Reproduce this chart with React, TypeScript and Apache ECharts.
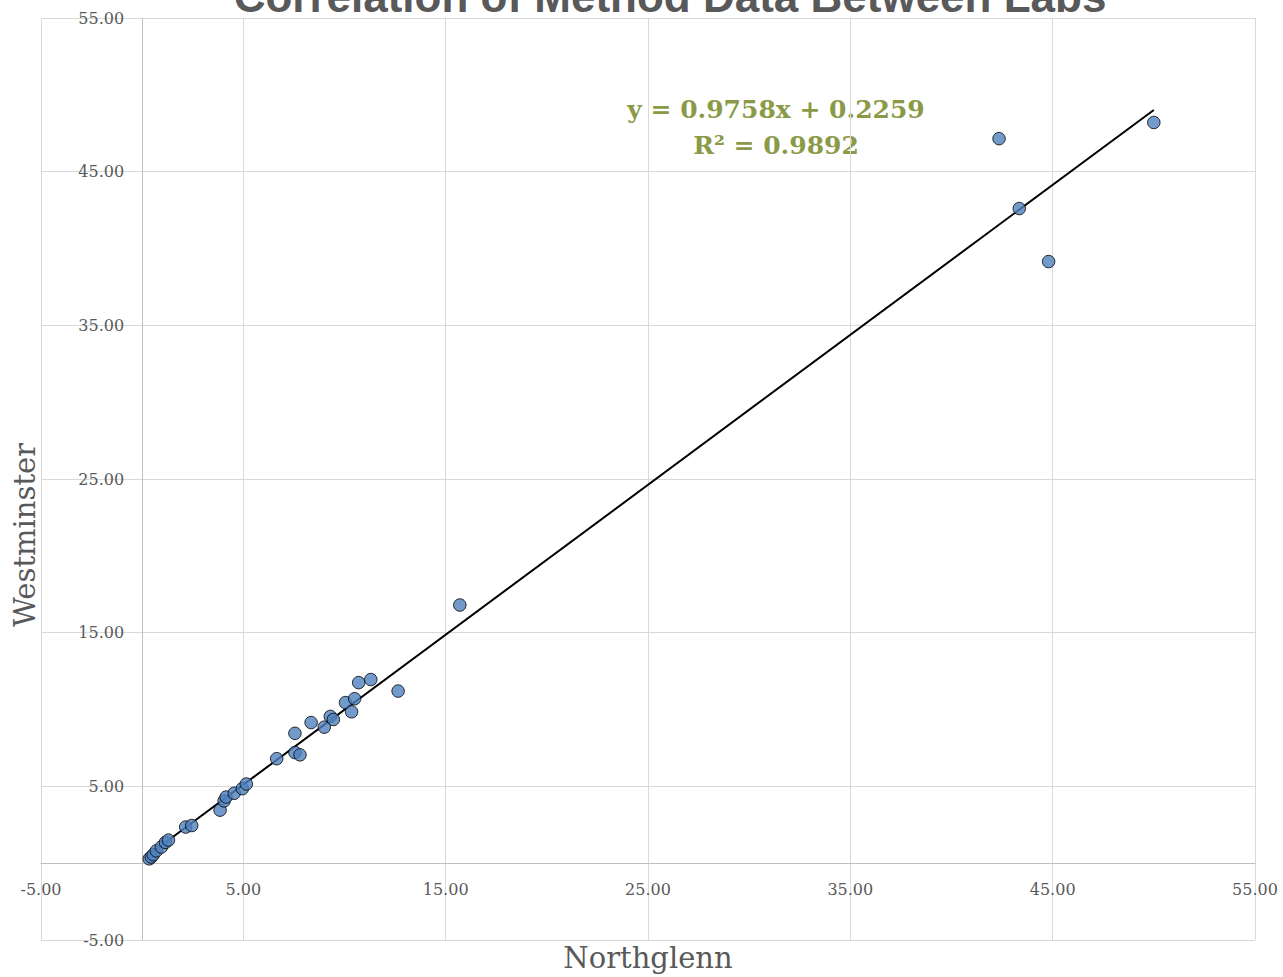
import React, { useEffect, useRef } from "react";
import * as echarts from "echarts";

const chartTitle = "Correlation of Method Data Between Labs";
const xAxisName = "Northglenn";
const yAxisName = "Westminster";

const northglenn = [
  0.35, 0.45, 0.55, 0.7, 0.95, 1.15, 1.3, 2.15, 2.45, 3.85, 4.05, 4.15, 4.55, 4.95, 5.15,
  6.65, 7.55, 7.55, 7.8, 8.35, 9.0, 9.3, 9.45, 10.05, 10.35, 10.5, 10.7, 11.3, 12.65, 15.7,
  42.35, 43.35, 44.8, 50.0,
];
const westminster = [
  0.28, 0.4, 0.55, 0.8, 1.05, 1.35, 1.5, 2.35, 2.45, 3.45, 4.05, 4.3, 4.55, 4.85, 5.15,
  6.8, 8.45, 7.2, 7.05, 9.15, 8.85, 9.55, 9.35, 10.45, 9.85, 10.7, 11.75, 11.95, 11.2, 16.8,
  47.15, 42.6, 39.15, 48.2,
];

const trendSlope = 0.9758;
const trendIntercept = 0.2259;
const rSquared = 0.9892;

const axisMin = -5;
const axisMax = 55;
const axisInterval = 10;

const W = 1283;
const H = 977;
const gridLeft = 41;
const gridRight = 28;
const gridTop = 18;
const gridBottom = 37;

export default function App() {
  const ref = useRef<HTMLDivElement>(null);

  useEffect(() => {
    if (!ref.current) return;
    const chart = echarts.init(ref.current, undefined, { renderer: "svg" });

    const points = northglenn.map((x, i) => [x, westminster[i]]);
    const xMinData = Math.min(...northglenn);
    const xMaxData = Math.max(...northglenn);
    const trend = [
      [xMinData, trendSlope * xMinData + trendIntercept],
      [xMaxData, trendSlope * xMaxData + trendIntercept],
    ];

    const plotW = W - gridLeft - gridRight;
    const plotH = H - gridTop - gridBottom;
    // move the axes onto the zero lines (same as Excel's crossing at 0)
    const yAxisOffset = -((0 - axisMin) / (axisMax - axisMin)) * plotW;
    const xAxisOffset = -((0 - axisMin) / (axisMax - axisMin)) * plotH;

    const serif = "DejaVu Serif";
    const labelStyle = { color: "#595959", fontFamily: serif, fontSize: 16 };

    chart.setOption({
      animation: false,
      backgroundColor: "#ffffff",
      grid: {
        left: gridLeft,
        right: gridRight,
        top: gridTop,
        bottom: gridBottom,
        containLabel: false,
        outerBoundsMode: "none",
      },
      xAxis: {
        type: "value",
        min: axisMin,
        max: axisMax,
        interval: axisInterval,
        offset: xAxisOffset,
        axisLine: { show: true, onZero: false, lineStyle: { color: "#bfbfbf", width: 1 } },
        axisTick: { show: false },
        axisLabel: { ...labelStyle, margin: 18, formatter: (v: number) => v.toFixed(2) },
        splitLine: { show: true, lineStyle: { color: "#d9d9d9", width: 1 } },
      },
      yAxis: {
        type: "value",
        min: axisMin,
        max: axisMax,
        interval: axisInterval,
        offset: yAxisOffset,
        axisLine: { show: true, onZero: false, lineStyle: { color: "#bfbfbf", width: 1 } },
        axisTick: { show: false },
        axisLabel: { ...labelStyle, margin: 18, formatter: (v: number) => v.toFixed(2) },
        splitLine: { show: true, lineStyle: { color: "#d9d9d9", width: 1 } },
      },
      series: [
        {
          type: "line",
          data: trend,
          symbol: "none",
          lineStyle: { color: "#000000", width: 2 },
          z: 2,
        },
        {
          type: "scatter",
          data: points,
          symbol: "circle",
          symbolSize: 12.5,
          itemStyle: { color: "#4f81bd", borderColor: "#000000", borderWidth: 1 },
          z: 3,
        },
      ],
      graphic: [
        {
          type: "text",
          x: 670,
          y: -4,
          style: {
            text: chartTitle,
            fontFamily: "Liberation Sans",
            fontWeight: "bold",
            fontSize: 44,
            fill: "#595959",
            textAlign: "center",
            textVerticalAlign: "middle",
          },
        },
        {
          type: "text",
          x: 776,
          y: 91,
          style: {
            text: `y = ${trendSlope}x + ${trendIntercept}\nR² = ${rSquared}`,
            fontFamily: serif,
            fontWeight: "bold",
            fontSize: 25,
            lineHeight: 36,
            fill: "#8a9a47",
            textAlign: "center",
            textVerticalAlign: "top",
          },
        },
        {
          type: "text",
          x: 648,
          y: 958,
          style: {
            text: xAxisName,
            fontFamily: serif,
            fontSize: 29,
            fill: "#595959",
            textAlign: "center",
            textVerticalAlign: "middle",
          },
        },
        {
          type: "text",
          x: 25,
          y: 535,
          rotation: Math.PI / 2,
          style: {
            text: yAxisName,
            fontFamily: serif,
            fontSize: 29,
            fill: "#595959",
            textAlign: "center",
            textVerticalAlign: "middle",
          },
        },
      ],
    });

    return () => chart.dispose();
  }, []);

  return (
    <div
      ref={ref}
      style={{ position: "fixed", left: 0, top: 0, width: W, height: H }}
    />
  );
}
